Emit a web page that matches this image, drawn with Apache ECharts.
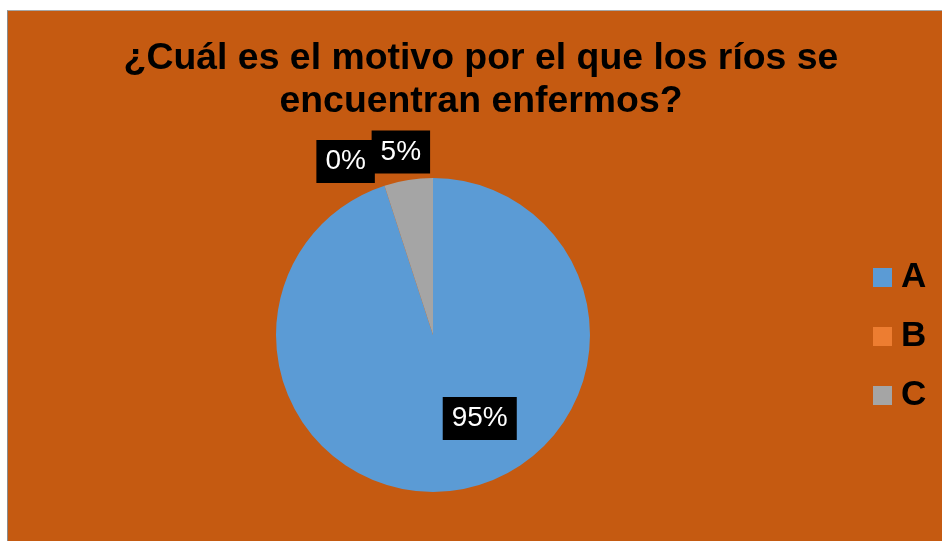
<!DOCTYPE html>
<html>
<head>
<meta charset="utf-8">
<script src="https://cdn.jsdelivr.net/npm/echarts@6/dist/echarts.min.js"></script>
<style>
html,body{margin:0;padding:0;background:#fff;width:942px;height:541px;overflow:hidden;}
#chart{position:absolute;left:7px;top:10px;width:935px;height:531px;background:#C55A11;border-left:1px solid #8c8c8c;border-top:1px solid #a6a6a6;box-sizing:border-box;}
</style>
</head>
<body>
<div id="chart"></div>
<script>
const titleText = "¿Cuál es el motivo por el que los ríos se\nencuentran enfermos?";
const categories = ["A", "B", "C"];
const values = [95, 0, 5];
const colors = ["#5B9BD5", "#ED7D31", "#A5A5A5"];
const labelShift = [{dx: 34, dy: 3}, {dx: 30, dy: -10}, {dx: 59, dy: -13}];

const chart = echarts.init(document.getElementById('chart'), null, {renderer: 'canvas'});
const font = "'Liberation Sans', Arial, sans-serif";
const data = categories.map((c, i) => {
  const item = {name: c, value: values[i], itemStyle: {color: colors[i]}};
  if (i === 0) {
    item.label = {position: 'inside'};
  } else {
    item.label = {position: 'outside'};
    item.labelLine = {show: false};
  }
  return item;
});
chart.setOption({
  animation: false,
  title: {
    text: titleText,
    left: 468,
    textAlign: 'center',
    top: 21,
    textStyle: {fontFamily: font, fontSize: 37.4, fontWeight: 'bold', color: '#000', lineHeight: 43}
  },
  legend: {
    orient: 'vertical',
    left: 860,
    top: 244,
    itemWidth: 19,
    itemHeight: 19,
    itemGap: 24,
    icon: 'rect',
    data: categories,
    textStyle: {fontFamily: font, fontSize: 35, fontWeight: 'bold', color: '#000', lineHeight: 34, padding: [0, 0, 0, 4]}
  },
  series: [{
    type: 'pie',
    center: [425, 324],
    radius: 157,
    startAngle: 90,
    clockwise: true,
    minAngle: 0,
    avoidLabelOverlap: false,
    data: data,
    itemStyle: {borderWidth: 0},
    label: {
      show: true,
      formatter: '{d}%',
      fontFamily: font,
      fontSize: 28,
      color: '#fff',
      backgroundColor: '#000',
      padding: [8, 9, 7, 9]
    },
    labelLine: {show: false},
    labelLayout: function (p) {
      const s = labelShift[p.dataIndex];
      return {dx: s.dx, dy: s.dy};
    }
  }]
});
</script>
</body>
</html>
